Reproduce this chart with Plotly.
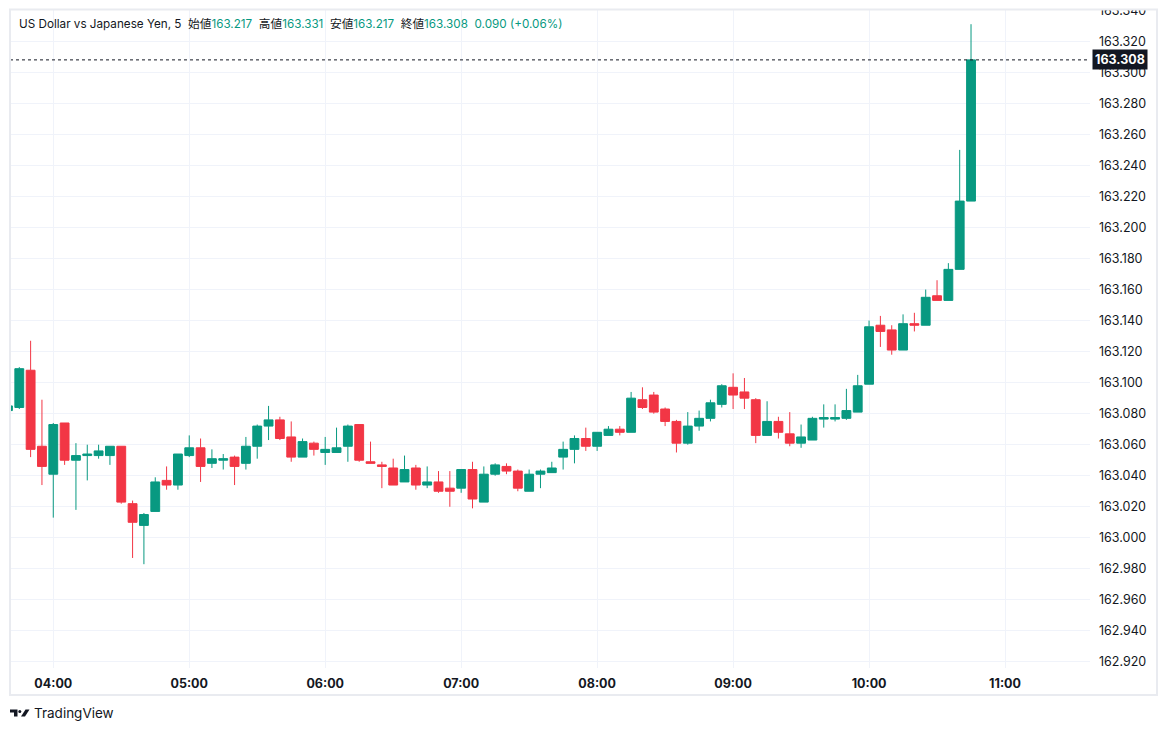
import plotly.graph_objects as go
import pandas as pd

# 5 minute candles, USD/JPY, first one (03:40) is cut at the left edge
times = pd.date_range("2024-07-01 03:40", periods=86, freq="5min")

opens = [163.082, 163.084, 163.108, 163.059, 163.041, 163.074, 163.050, 163.053, 163.053, 163.053,
         163.059, 163.022, 163.008, 163.017, 163.037, 163.034, 163.053, 163.058, 163.048, 163.050,
         163.052, 163.048, 163.059, 163.072, 163.076, 163.065, 163.052, 163.061, 163.055, 163.055,
         163.059, 163.073, 163.049, 163.047, 163.045, 163.036, 163.045, 163.034, 163.036, 163.032,
         163.032, 163.044, 163.023, 163.041, 163.046, 163.043, 163.030, 163.041, 163.042, 163.052,
         163.057, 163.064, 163.059, 163.066, 163.070, 163.068, 163.089, 163.092, 163.083, 163.075,
         163.061, 163.072, 163.077, 163.086, 163.097, 163.094, 163.089, 163.066, 163.075, 163.067,
         163.061, 163.063, 163.0765, 163.0765, 163.077, 163.081, 163.099, 163.137, 163.134, 163.121,
         163.138, 163.137, 163.156, 163.153, 163.173, 163.217]
highs = [163.085, 163.110, 163.127, 163.089, 163.074, 163.074, 163.061, 163.060, 163.060, 163.059,
         163.059, 163.024, 163.016, 163.039, 163.046, 163.054, 163.066, 163.064, 163.057, 163.054,
         163.053, 163.065, 163.073, 163.085, 163.078, 163.075, 163.064, 163.062, 163.065, 163.071,
         163.073, 163.073, 163.062, 163.049, 163.051, 163.053, 163.047, 163.046, 163.043, 163.043,
         163.044, 163.049, 163.046, 163.048, 163.048, 163.044, 163.044, 163.044, 163.049, 163.062,
         163.066, 163.071, 163.068, 163.072, 163.072, 163.094, 163.097, 163.094, 163.084, 163.076,
         163.081, 163.082, 163.089, 163.099, 163.106, 163.103, 163.090, 163.088, 163.078, 163.081,
         163.073, 163.078, 163.086, 163.086, 163.096, 163.105, 163.140, 163.143, 163.137, 163.144,
         163.145, 163.160, 163.166, 163.177, 163.250, 163.331]
lows = [163.082, 163.083, 163.052, 163.034, 163.013, 163.047, 163.018, 163.037, 163.051, 163.047,
        163.022, 162.987, 162.983, 163.017, 163.031, 163.031, 163.052, 163.036, 163.045, 163.044,
        163.034, 163.044, 163.051, 163.063, 163.063, 163.049, 163.052, 163.053, 163.047, 163.055,
        163.049, 163.049, 163.048, 163.032, 163.034, 163.036, 163.031, 163.032, 163.029, 163.020,
        163.029, 163.019, 163.023, 163.040, 163.041, 163.030, 163.030, 163.032, 163.042, 163.044,
        163.048, 163.056, 163.056, 163.066, 163.066, 163.068, 163.083, 163.080, 163.072, 163.055,
        163.060, 163.069, 163.075, 163.084, 163.083, 163.083, 163.061, 163.066, 163.064, 163.059,
        163.058, 163.063, 163.071, 163.075, 163.076, 163.081, 163.099, 163.123, 163.118, 163.121,
        163.133, 163.137, 163.153, 163.153, 163.173, 163.217]
closes = [163.085, 163.109, 163.057, 163.046, 163.073, 163.050, 163.053, 163.054, 163.056, 163.059,
          163.023, 163.010, 163.015, 163.036, 163.034, 163.054, 163.058, 163.046, 163.051, 163.051,
          163.046, 163.059, 163.072, 163.076, 163.064, 163.052, 163.062, 163.057, 163.057, 163.058,
          163.072, 163.050, 163.048, 163.046, 163.034, 163.044, 163.034, 163.036, 163.030, 163.030,
          163.044, 163.025, 163.041, 163.047, 163.043, 163.032, 163.041, 163.043, 163.045, 163.057,
          163.064, 163.059, 163.068, 163.070, 163.068, 163.090, 163.084, 163.081, 163.075, 163.061,
          163.072, 163.077, 163.087, 163.098, 163.092, 163.090, 163.066, 163.075, 163.068, 163.061,
          163.065, 163.077, 163.0775, 163.0775, 163.082, 163.098, 163.136, 163.133, 163.121, 163.138,
          163.137, 163.155, 163.153, 163.173, 163.217, 163.308]

price_ticks = [round(162.92 + 0.02 * k, 3) for k in range(22)]
hour_ticks = pd.date_range("2024-07-01 04:00", "2024-07-01 11:00", freq="1h")

last_close = closes[-1]
header = ("US Dollar vs Japanese Yen, 5&nbsp;&nbsp;"
          "始値<span style='color:#089981'>163.217</span>&nbsp;&nbsp;"
          "高値<span style='color:#089981'>163.331</span>&nbsp;&nbsp;"
          "安値<span style='color:#089981'>163.217</span>&nbsp;&nbsp;"
          "終値<span style='color:#089981'>163.308</span>&nbsp;&nbsp;"
          "<span style='color:#089981'>0.090 (+0.06%)</span>")

UP = "#089981"
DOWN = "#F23645"
INK = "#131722"
FONT = "Inter, Noto Sans CJK JP, sans-serif"

# the page body adds an 8px margin, so the figure is 8px smaller and everything
# below is in screen pixels; plot area on screen: x 10..1090, y 10..668
def px(x):
    return (x - 10) / 1080

def py(y):
    return (668 - y) / 658

fig = go.Figure()
fig.add_trace(go.Candlestick(
    x=times, open=opens, high=highs, low=lows, close=closes,
    increasing=dict(line=dict(color=UP, width=1), fillcolor=UP),
    decreasing=dict(line=dict(color=DOWN, width=1), fillcolor=DOWN),
    whiskerwidth=0, hoverinfo="skip", showlegend=False,
))

shapes = [
    # last price dotted line
    dict(type="line", xref="paper", yref="y", x0=0, x1=1, y0=last_close, y1=last_close,
         line=dict(color=INK, width=1, dash="dot")),
    # hide top half of the clipped 163.340 label
    dict(type="rect", xref="paper", yref="paper", x0=1.0, x1=px(1160), y0=py(9), y1=py(0),
         fillcolor="white", line=dict(width=0), layer="above"),
    # outer frame
    dict(type="rect", xref="paper", yref="paper", x0=px(10), x1=px(1157), y0=py(695), y1=py(9.5),
         line=dict(color="#e9ebf0", width=2), layer="above"),
    # TradingView logo
    dict(type="path", xref="paper", yref="paper",
         path=f"M {px(10)},{py(709.5)} L {px(17.5)},{py(709.5)} L {px(17.5)},{py(716.5)} "
              f"L {px(14)},{py(716.5)} L {px(14)},{py(712.5)} L {px(10)},{py(712.5)} Z",
         fillcolor=INK, line=dict(width=0), layer="above"),
    dict(type="circle", xref="paper", yref="paper", x0=px(18.3), x1=px(21.3), y0=py(713), y1=py(710),
         fillcolor=INK, line=dict(width=0), layer="above"),
    dict(type="path", xref="paper", yref="paper",
         path=f"M {px(25.5)},{py(709.5)} L {px(29.5)},{py(709.5)} L {px(25)},{py(716.5)} "
              f"L {px(21)},{py(716.5)} Z",
         fillcolor=INK, line=dict(width=0), layer="above"),
]

annotations = [
    dict(text=header, xref="paper", yref="paper", x=px(17), y=py(24), xanchor="left",
         yanchor="middle", showarrow=False, font=dict(family=FONT, size=11.7, color=INK)),
    dict(text=f"<b>{last_close:.3f}</b>", xref="paper", yref="y", x=px(1092), y=last_close,
         xanchor="left", yanchor="middle", showarrow=False, bgcolor=INK, borderpad=2,
         font=dict(family=FONT, size=12.5, color="white")),
    dict(text="TradingView", xref="paper", yref="paper", x=px(32), y=py(713.5), xanchor="left",
         yanchor="middle", showarrow=False, font=dict(family=FONT, size=13.5, color=INK)),
]

fig.update_layout(
    width=1159, height=723,
    margin=dict(l=2, r=77, t=2, b=63),
    paper_bgcolor="white", plot_bgcolor="white",
    boxgap=0.22, boxgroupgap=0,
    shapes=shapes, annotations=annotations,
    font=dict(family=FONT, color=INK),
    xaxis=dict(
        type="date",
        range=["2024-07-01 03:40:54", "2024-07-01 11:37:30"],
        rangeslider=dict(visible=False),
        tickvals=hour_ticks, tickformat="%H:%M",
        tickfont=dict(family=FONT, size=12.5, color=INK, weight="bold"),
        ticklabelstandoff=6, automargin=False,
        showgrid=True, gridcolor="#f0f3fa", gridwidth=1,
        zeroline=False, showline=False, ticks="",
    ),
    yaxis=dict(
        side="right",
        range=[162.9161, 163.34015],
        tickvals=price_ticks, tickformat=".3f",
        tickfont=dict(family=FONT, size=12.5, color=INK),
        ticklabelstandoff=8, automargin=False, ticklabeloverflow="allow",
        showgrid=True, gridcolor="#f0f3fa", gridwidth=1,
        zeroline=False, showline=False, ticks="",
    ),
)

fig.write_html("out.html")
